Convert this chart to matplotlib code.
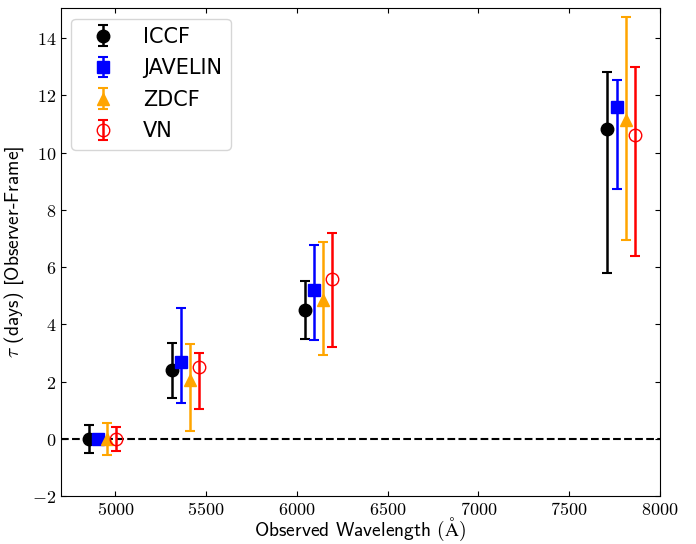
import numpy as np
import matplotlib
matplotlib.use('Agg')
import matplotlib.pyplot as plt
from matplotlib.ticker import FuncFormatter

plt.rcParams['mathtext.fontset'] = 'cm'

# lag measurements (observer frame), asymmetric errors
iccf_wave = [4853, 5311, 6045, 7711]
iccf_lag = [0.0, 2.39, 4.51, 10.83]
iccf_up = [0.47, 0.97, 1.00, 2.00]
iccf_lo = [0.48, 0.97, 1.02, 5.02]

jav_wave = [4903, 5361, 6095, 7761]
jav_lag = [0.0, 2.70, 5.21, 11.61]
jav_up = [0.05, 1.87, 1.56, 0.94]
jav_lo = [0.05, 1.45, 1.75, 2.89]

zdcf_wave = [4953, 5411, 6145, 7811]
zdcf_lag = [0.0, 2.06, 4.86, 11.14]
zdcf_up = [0.55, 1.27, 2.01, 3.59]
zdcf_lo = [0.56, 1.80, 1.94, 4.19]

vn_wave = [5003, 5461, 6195, 7861]
vn_lag = [0.0, 2.50, 5.59, 10.61]
vn_up = [0.41, 0.51, 1.61, 2.39]
vn_lo = [0.41, 1.46, 2.38, 4.21]

fig = plt.figure(figsize=(6.96, 5.44), dpi=100)
ax = fig.add_axes([0.0876, 0.088, 0.8606, 0.897])

ax.axhline(0, color='k', ls='--', lw=1.5, zorder=1)

kw = dict(ls='none', ms=9, capsize=3.5, elinewidth=1.8, capthick=1.5, zorder=3)
ax.errorbar(iccf_wave, iccf_lag, yerr=[iccf_lo, iccf_up], fmt='o', color='black', label='ICCF', **kw)
ax.errorbar(jav_wave, jav_lag, yerr=[jav_lo, jav_up], fmt='s', color='blue', label='JAVELIN', **kw)
ax.errorbar(zdcf_wave, zdcf_lag, yerr=[zdcf_lo, zdcf_up], fmt='^', color='orange', label='ZDCF', **kw)
ax.errorbar(vn_wave, vn_lag, yerr=[vn_lo, vn_up], fmt='o', color='red', mfc='none', label='VN', **kw)

ax.set_xlim(4700, 8000)
ax.set_ylim(-2, 15.05)
ax.set_xticks(np.arange(5000, 8001, 500))
ax.set_yticks(np.arange(-2, 15, 2))
fmt = FuncFormatter(lambda v, p: r'$%d$' % v)
ax.xaxis.set_major_formatter(fmt)
ax.yaxis.set_major_formatter(fmt)
ax.tick_params(axis='both', which='both', direction='in', top=True, right=True, labelsize=13)

ax.set_xlabel(r'Observed Wavelength $(\mathrm{\AA})$', fontfamily='cmss10', fontsize=14, labelpad=-2)
ax.set_ylabel(r'$\tau$ (days) [Observer-Frame]', fontfamily='cmss10', fontsize=14)

ax.legend(loc='upper left', fontsize=15, handlelength=2.25, labelspacing=0.55)

plt.savefig('out.png', dpi=100)
plt.close(fig)
